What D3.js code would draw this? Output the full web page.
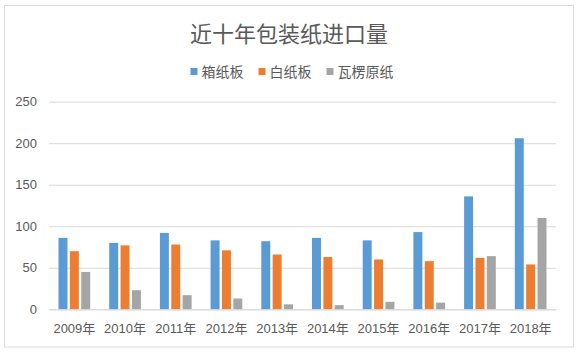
<!DOCTYPE html>
<html>
<head>
<meta charset="utf-8">
<script src="https://cdn.jsdelivr.net/npm/d3@7"></script>
<style>
  html, body { margin: 0; padding: 0; background: #fff; }
  svg { display: block; }
</style>
</head>
<body>
<svg id="chart" width="579" height="355"></svg>
<script>
const categories = ["2009年","2010年","2011年","2012年","2013年","2014年","2015年","2016年","2017年","2018年"];
const seriesNames = ["箱纸板","白纸板","瓦楞原纸"];
const boxboard = [86, 80, 92, 83, 82, 86, 83, 93, 136, 206];
const whiteboard = [70, 77, 78, 71, 66, 63, 60, 58, 62, 54];
const corrugating = [45, 23, 17, 13, 6, 5, 9, 8, 64, 110];
const yTicks = [0, 50, 100, 150, 200, 250];
const colors = ["#5b9bd5", "#ed7d31", "#a5a5a5"];
const titleText = "近十年包装纸进口量";

const seriesValues = [boxboard, whiteboard, corrugating];
const svg = d3.select("#chart");
const font = "'Liberation Sans', 'Noto Sans CJK SC', sans-serif";
const cjkFont = "'Noto Sans CJK SC', sans-serif";

// border
svg.append("rect").attr("x", 4.5).attr("y", 5.5).attr("width", 569).attr("height", 341.5)
  .attr("fill", "#fff").attr("stroke", "#d9d9d9").attr("stroke-width", 1);

const plot = { left: 49, right: 556, top: 101.7, bottom: 309.3 };
const x = d3.scaleBand().domain(categories).range([plot.left, plot.right]).paddingInner(0).paddingOuter(0);
const xs = d3.scaleBand().domain(seriesNames).range([9.5, x.bandwidth() - 9.5]).paddingInner(0.21).paddingOuter(0);
const y = d3.scaleLinear().domain([0, 250]).range([plot.bottom, plot.top]);

// gridlines
const yAxis = d3.axisLeft(y).tickValues(yTicks).tickSize(-(plot.right - plot.left)).tickPadding(12);
const gy = svg.append("g").attr("transform", `translate(${plot.left},0)`).call(yAxis);
gy.select(".domain").remove();
gy.selectAll(".tick line").attr("stroke", "#d9d9d9").attr("stroke-width", 1);
gy.selectAll(".tick text").attr("fill", "#595959").attr("font-size", 13).attr("font-family", font);

// bars
seriesNames.forEach((s, si) => {
  svg.append("g").selectAll("rect").data(seriesValues[si]).join("rect")
    .attr("x", (d, i) => x(categories[i]) + xs(s))
    .attr("y", d => y(d))
    .attr("width", xs.bandwidth())
    .attr("height", d => y(0) - y(d))
    .attr("fill", colors[si]);
});

// x axis
const xAxis = d3.axisBottom(x).tickSize(0).tickPadding(14);
const gx = svg.append("g").attr("transform", `translate(0,${plot.bottom})`).call(xAxis);
gx.select(".domain").attr("stroke", "#d9d9d9");
gx.selectAll(".tick text").attr("fill", "#595959").attr("font-size", 13).attr("font-family", font);

// title
svg.append("text").attr("x", 289).attr("y", 42).attr("text-anchor", "middle")
  .attr("font-size", 22).attr("font-family", cjkFont).attr("fill", "#595959").text(titleText);

// legend
const legendX = [190.5, 258.5, 326.5];
const legend = svg.append("g");
seriesNames.forEach((s, i) => {
  legend.append("rect").attr("x", legendX[i]).attr("y", 68).attr("width", 7).attr("height", 7).attr("fill", colors[i]);
  legend.append("text").attr("x", legendX[i] + 11).attr("y", 76.5).attr("font-size", 14)
    .attr("font-family", cjkFont).attr("fill", "#595959").text(s);
});
</script>
</body>
</html>
